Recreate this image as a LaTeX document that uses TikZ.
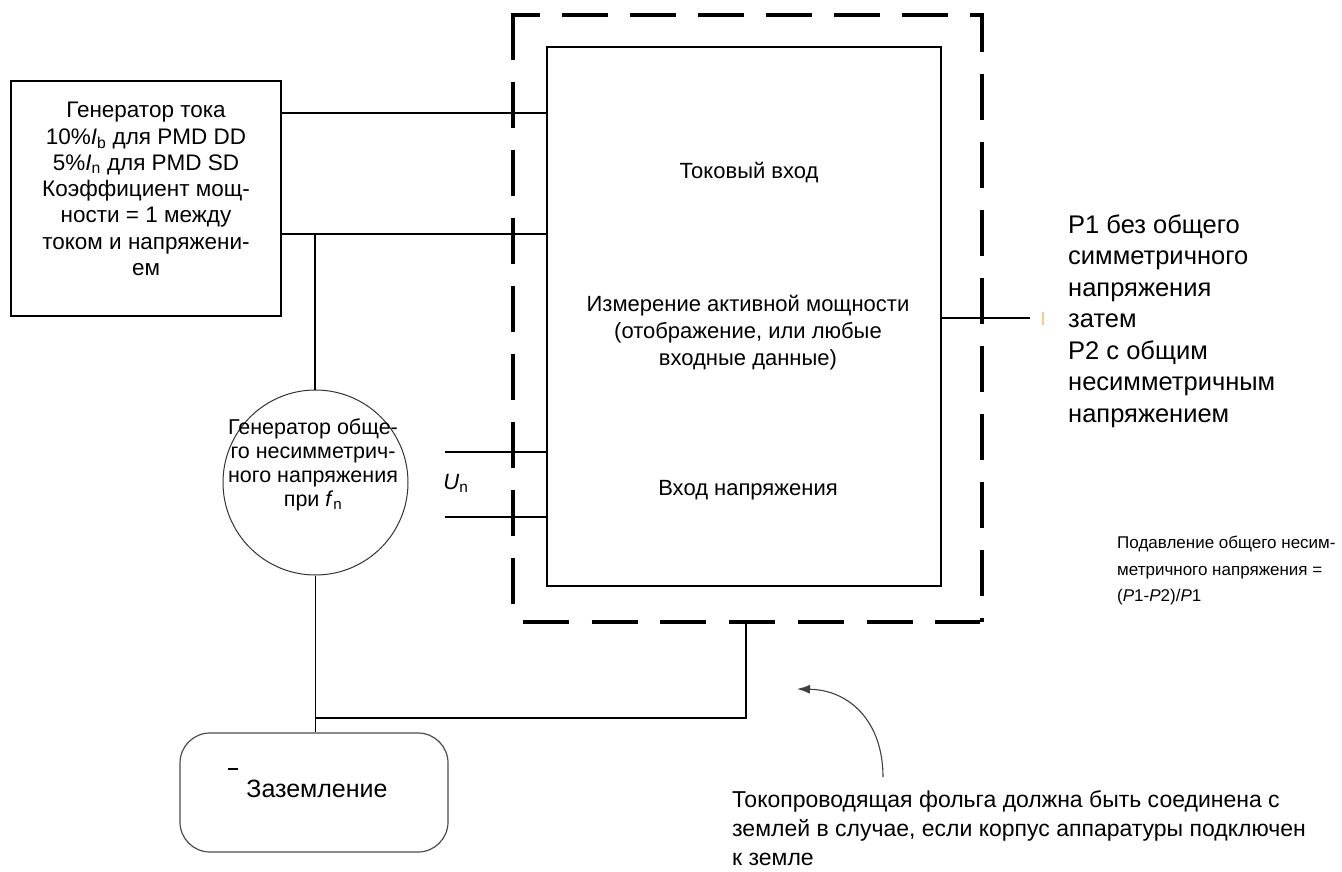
\documentclass[tikz,border=0pt]{standalone}
\usepackage{fontspec}
\setmainfont{Liberation Sans}
\usetikzlibrary{arrows.meta,calc}
\newcommand\myfs[2]{\fontsize{#1}{#2}\selectfont}
\begin{document}
\begin{tikzpicture}[x=1pt,y=-1pt,
  boxst/.style={draw=black,line width=1.4pt,inner sep=0pt},
  wire/.style={draw=black,line width=1.3pt},
  shieldst/.style={draw=black,line width=4pt,dash pattern=on 46pt off 22pt},
  txt/.style={inner sep=0pt,align=center,text=black},
  arrowst/.style={draw=black!75,line width=1.1pt,-{Latex[length=13pt,width=9pt]}},
  ticko/.style={draw=orange!45,line width=1.5pt}]
\useasboundingbox[fill=white] (0,0) rectangle (1342,872);

% boxes
\node[boxst,minimum width=270pt,minimum height=235pt] (gen) at (146,198.5) {};
\node[boxst,minimum width=394pt,minimum height=539pt] (meter) at (744,316.5) {};
\node[circle,draw=black!80,line width=1pt,minimum size=185pt,inner sep=0pt] (cgen) at (315.5,482.5) {};
\node[draw=black!70,line width=1.2pt,rounded corners=30pt,minimum width=268pt,minimum height=119pt,inner sep=0pt] (gnd) at (314,792.5) {};

% dashed shield
\draw[shieldst,dash phase=1pt] (513,15) -- (513,622);
\draw[shieldst,dash phase=17pt] (511,15) -- (984,15);
\draw[shieldst,dash phase=9pt] (982,15) -- (982,622);
\draw[shieldst,dash pattern=on 46pt off 22.7pt] (523,622) -- (980,622);
\coordinate (shieldbot) at (746,622);

% texts
\node[txt,font=\myfs{22.5}{26.3}] (gentext) at (146,189)
  {Генератор тока\\10\%\textit{I}\textsubscript{b} для PMD DD\\5\%\textit{I}\textsubscript{n} для PMD SD\\Коэффициент мощ-\\ности = 1 между\\током и напряжени-\\ем};
\node[txt,font=\myfs{22}{25.8}] (t1) at (749,173) {Токовый вход};
\node[txt,font=\myfs{22}{27}] (t2) at (748,333) {Измерение активной мощности\\(отображение, или любые\\входные данные)};
\node[txt,font=\myfs{22}{25.8}] (t3) at (748,490) {Вход напряжения};
\node[txt,font=\myfs{21.5}{24}] (ctext) at (313,465) {Генератор обще-\\го несимметрич-\\ного напряжения\\при \textit{f}\textsubscript{n}};
\node[txt,font=\myfs{22}{26}] (un) at (456,483) {\textit{U}\textsubscript{n}};
\node[txt,font=\myfs{25}{28}] (gtext) at (317,789) {Заземление};
\coordinate (dA) at (228,769); \coordinate (dB) at (238,769);
\draw[line width=1.5pt] (dA) -- (dB);
\node[txt,align=left,anchor=west,font=\myfs{25.5}{31.5}] (rtext) at (1068,321)
  {P1 без общего\\симметричного\\напряжения\\затем\\P2 с общим\\несимметричным\\напряжением};
\node[txt,align=left,anchor=west,font=\myfs{17}{26.5}] (ptext) at (1117,571)
  {Подавление общего несим-\\метричного напряжения =\\(\textit{P}1-\textit{P}2)/\textit{P}1};
\node[txt,align=left,anchor=west,font=\myfs{23}{29}] (btext) at (732,828)
  {Токопроводящая фольга должна быть соединена с\\землей в случае, если корпус аппаратуры подключен\\к земле};

% connectors
\coordinate (yA) at (0,113);
\coordinate (yB) at (0,234);
\draw[wire] (gen.east |- yA) -- (meter.west |- yA);
\draw[wire] (gen.east |- yB) -- (meter.west |- yB);
\coordinate (tap) at (315,234);
\draw[wire] (tap) -- (tap |- cgen.north);
\draw[wire] (cgen.south) -- (cgen.south |- gnd.north);
\coordinate (j) at (315,718);
\draw[wire] (j) -- (j -| shieldbot) -- (shieldbot);
\coordinate (u1) at (445,452);
\coordinate (u2) at (445,517);
\draw[wire] (u1) -- (u1 -| meter.west);
\draw[wire] (u2) -- (u2 -| meter.west);
\coordinate (out) at (1030,318);
\draw[wire] (meter.east |- out) -- (out);
\coordinate (oA) at (1043,312); \coordinate (oB) at (1043,325);
\draw[ticko] (oA) -- (oB);
\coordinate (arrS) at (883,777);
\coordinate (arrE) at (797,689);
\draw[arrowst] (arrS) .. controls (883,722) and (850,690) .. (arrE);
\end{tikzpicture}
\end{document}
